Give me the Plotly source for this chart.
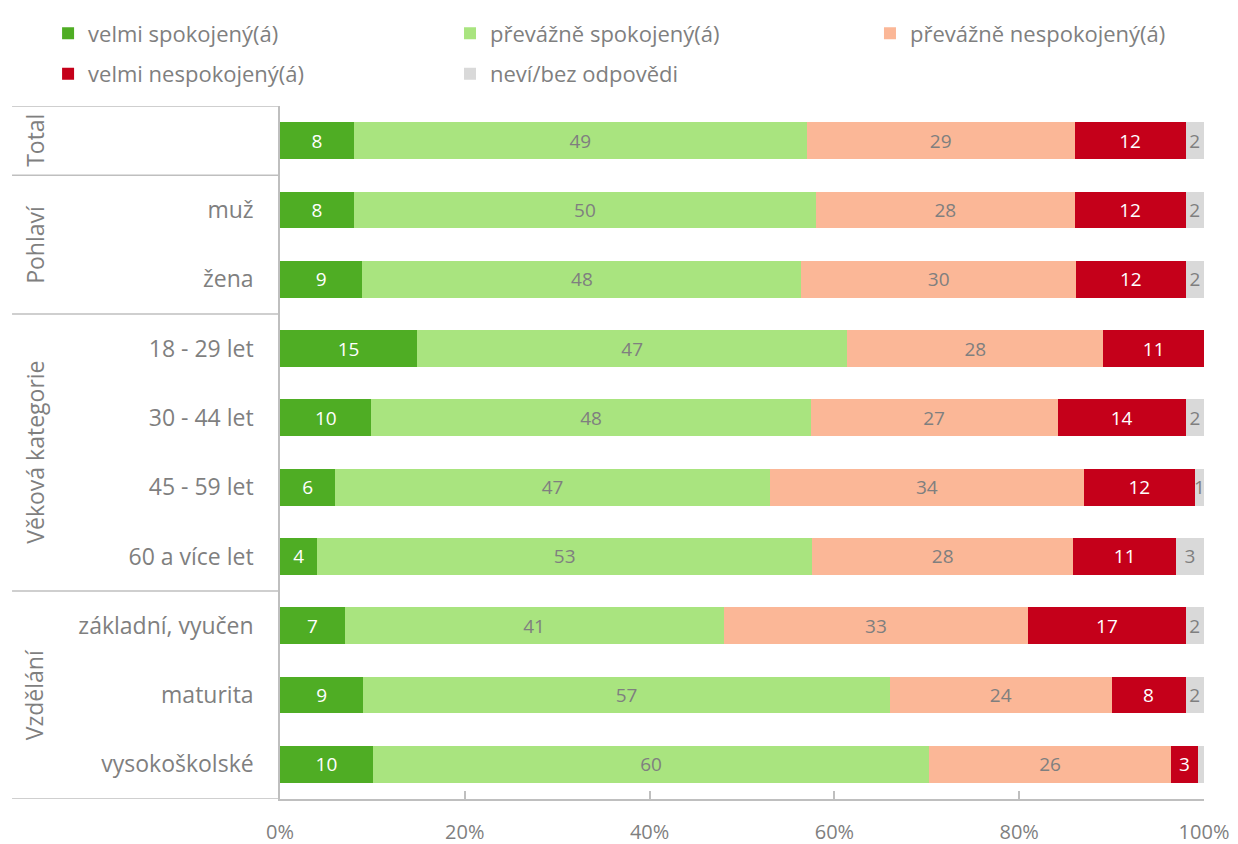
import plotly.graph_objects as go

# Row groups and row labels (top to bottom)
groups = ["Total", "Pohlaví", "Věková kategorie", "Vzdělání"]
group_rows = [
    ["Total"],
    ["muž", "žena"],
    ["18 - 29 let", "30 - 44 let", "45 - 59 let", "60 a více let"],
    ["základní, vyučen", "maturita", "vysokoškolské"],
]
rows = [r for g in group_rows for r in g]
tick_text = ["" if r == "Total" else r for r in rows]

series = [
    "velmi spokojený(á)",
    "převážně spokojený(á)",
    "převážně nespokojený(á)",
    "velmi nespokojený(á)",
    "neví/bez odpovědi",
]

# Shares in % for each row, one list per answer
velmi_spokojeny = [8, 8, 9, 15, 10, 6, 4, 7, 9, 10]
prevazne_spokojeny = [49, 50, 48, 47, 48, 47, 53, 41, 57, 60]
prevazne_nespokojeny = [29, 28, 30, 28, 27, 34, 28, 33, 24, 26]
velmi_nespokojeny = [12, 12, 12, 11, 14, 12, 11, 17, 8, 3]
nevi = [2, 2, 2, 0, 2, 1, 3, 2, 2, 0.6]
values = [velmi_spokojeny, prevazne_spokojeny, prevazne_nespokojeny,
          velmi_nespokojeny, nevi]

x_ticks = [0, 20, 40, 60, 80, 100]
x_tick_text = [f"{t}%" for t in x_ticks]

colors = ["#4FAD24", "#A9E47F", "#FBB797", "#C5001A", "#D9D9D9"]
text_colors = ["#FFFFFF", "#7F7F7F", "#7F7F7F", "#FFFFFF", "#7F7F7F"]
legend_ids = ["legend", "legend2", "legend3", "legend", "legend2"]

GREY = "#7F7F7F"
LINE = "#BFBFBF"
FONT = "Open Sans"

fig = go.Figure()
for name, vals, col, tcol, lg in zip(series, values, colors, text_colors, legend_ids):
    fig.add_trace(go.Bar(
        y=rows, x=vals, name=name, orientation="h",
        marker=dict(color=col, line=dict(width=0)),
        text=[f"{v:g}" if v >= 1 else "" for v in vals],
        texttemplate="%{text}",
        textposition="inside", insidetextanchor="middle", textangle=0,
        textfont=dict(color=tcol, size=19, family=FONT),
        legend=lg, legendgroup=name,
        hoverinfo="skip",
    ))

# Horizontal separators between row groups, extended left under the group titles
bounds = [-0.5]
for g in group_rows:
    bounds.append(bounds[-1] + len(g))
shapes = []
for b in bounds:
    shapes.append(dict(type="line", xref="paper", yref="y",
                       x0=-0.29, x1=0, y0=b, y1=b,
                       line=dict(color=LINE, width=1.5)))

# Rotated group titles centred on their rows
annotations = []
start = 0
for g, rr in zip(groups, group_rows):
    centre = start + (len(rr) - 1) / 2
    annotations.append(dict(text=g, xref="paper", yref="y", x=-0.266, y=centre,
                            textangle=-90, showarrow=False, xanchor="center",
                            yanchor="middle",
                            font=dict(size=23, color=GREY, family=FONT)))
    start += len(rr)

legend_style = dict(orientation="v", yanchor="top", y=1.135, xanchor="left",
                    font=dict(size=22, color=GREY, family=FONT),
                    bgcolor="rgba(0,0,0,0)", traceorder="grouped",
                    tracegroupgap=9, itemclick=False)

fig.update_layout(
    width=1238, height=844,
    margin=dict(l=280, r=34, t=104, b=45),
    paper_bgcolor="white", plot_bgcolor="white",
    barmode="stack", barnorm="percent", bargap=0.47,
    uniformtext=dict(minsize=18, mode="show"),
    font=dict(family=FONT, color=GREY),
    showlegend=True,
    legend=dict(legend_style, x=-0.251),
    legend2=dict(legend_style, x=0.184),
    legend3=dict(legend_style, x=0.6385),
    shapes=shapes, annotations=annotations,
    xaxis=dict(range=[0, 100], tickvals=x_ticks, ticktext=x_tick_text,
               ticks="inside", ticklen=8, tickcolor=LINE,
               tickwidth=1.5, showgrid=False, zeroline=False,
               showline=True, linecolor=LINE, linewidth=1.5,
               ticklabelstandoff=14, automargin=False,
               tickfont=dict(size=20, color=GREY, family=FONT)),
    yaxis=dict(range=[9.5, -0.5], tickvals=rows, ticktext=tick_text,
               ticks="", showgrid=False, zeroline=False,
               showline=True, linecolor=LINE, linewidth=1.5,
               ticklabelstandoff=20, automargin=False,
               tickfont=dict(size=23, color=GREY, family=FONT)),
)

fig.write_html("out.html")
